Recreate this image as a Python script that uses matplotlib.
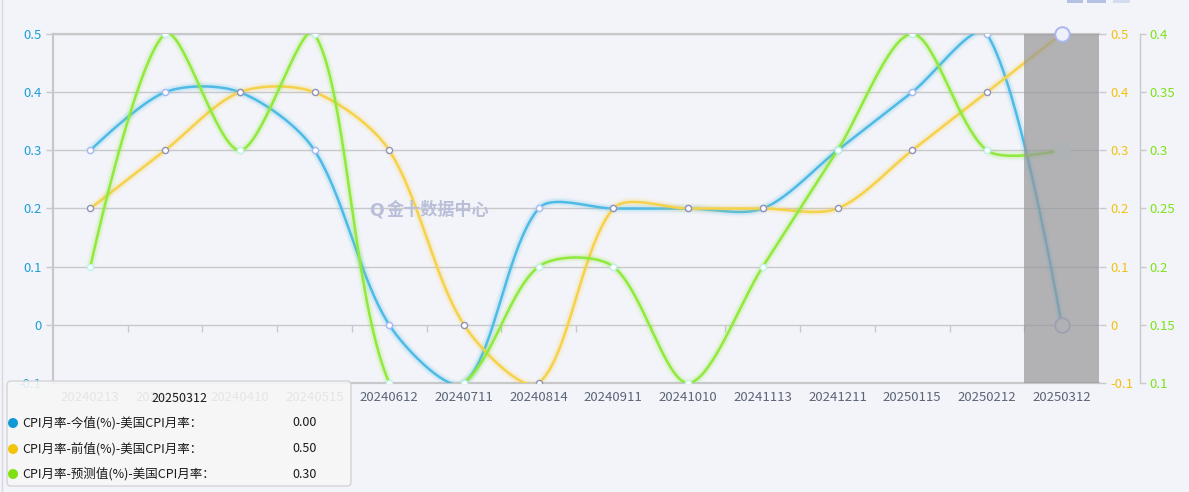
import numpy as np
import matplotlib
matplotlib.use("Agg")
import matplotlib.pyplot as plt
from matplotlib.patches import FancyBboxPatch, Circle, Rectangle
from matplotlib.transforms import IdentityTransform

plt.rcParams['font.family'] = ['Noto Sans CJK SC', 'DejaVu Sans']

# ---- data -------------------------------------------------------------
dates = ['20240213', '20240312', '20240410', '20240515', '20240612', '20240711',
         '20240814', '20240911', '20241010', '20241113', '20241211', '20250115',
         '20250212', '20250312']
actual = [0.3, 0.4, 0.4, 0.3, 0.0, -0.1, 0.2, 0.2, 0.2, 0.2, 0.3, 0.4, 0.5, 0.0]
previous = [0.2, 0.3, 0.4, 0.4, 0.3, 0.0, -0.1, 0.2, 0.2, 0.2, 0.2, 0.3, 0.4, 0.5]
forecast = [0.2, 0.4, 0.3, 0.4, 0.1, 0.1, 0.2, 0.2, 0.1, 0.2, 0.3, 0.4, 0.3, 0.3]

rate_ticks = [-0.1, 0.0, 0.1, 0.2, 0.3, 0.4, 0.5]
rate_labels = ['-0.1', '0', '0.1', '0.2', '0.3', '0.4', '0.5']
fc_ticks = [0.1, 0.15, 0.2, 0.25, 0.3, 0.35, 0.4]
fc_labels = ['0.1', '0.15', '0.2', '0.25', '0.3', '0.35', '0.4']

series_names = ['CPI月率-今值(%)-美国CPI月率：',
                'CPI月率-前值(%)-美国CPI月率：',
                'CPI月率-预测值(%)-美国CPI月率：']
watermark = '金十数据中心'

# ---- style ------------------------------------------------------------
W, H = 1189, 492
BG = '#f3f4f9'
GRID = '#c9c9cc'
BLUE_LINE, YEL_LINE, GRN_LINE = '#4dbbe6', '#f6d24a', '#8fea3c'
BLUE_DOT, YEL_DOT, GRN_DOT = '#1199d6', '#f2c40c', '#7fe012'
BLUE_TXT, YEL_TXT, GRN_TXT = '#1d9fd6', '#f0c20e', '#7ee21a'
PX = IdentityTransform()


def px_to_fig(x0, y0, x1, y1):
    return [x0 / W, 1 - y1 / H, (x1 - x0) / W, (y1 - y0) / H]


def smooth_curve(axis, xs, ys, smooth=0.3, n=40):
    """Cubic Bezier smoothing in display space; tangents follow neighbouring points."""
    pts = axis.transData.transform(np.column_stack([xs, ys]).astype(float))
    m = len(pts)
    t = np.linspace(0, 1, n)[1:, None]
    out = [pts[0][None, :]]
    cp0 = pts[0].copy()
    for i in range(1, m):
        p, prev = pts[i], pts[i - 1]
        if i < m - 1:
            nxt = pts[i + 1]
            v = nxt - prev
            d0 = np.hypot(*(p - prev))
            d1 = np.hypot(*(nxt - p))
            r = d1 / (d0 + d1)
            cp1 = p - v * smooth * (1 - r)
            next_cp0 = p + v * smooth * r
        else:
            cp1 = p.copy()
            next_cp0 = p.copy()
        seg = ((1 - t) ** 3 * prev + 3 * (1 - t) ** 2 * t * cp0
               + 3 * (1 - t) * t ** 2 * cp1 + t ** 3 * p)
        out.append(seg)
        cp0 = next_cp0
    path = np.vstack(out)
    return axis.transData.inverted().transform(path)


fig = plt.figure(figsize=(W / 100, H / 100), dpi=100, facecolor=BG)
ax = fig.add_axes(px_to_fig(53, 34, 1099, 383))
ax.set_facecolor(BG)
ax2 = ax.twinx()
ax3 = ax.twinx()

x = np.arange(len(dates))
for a in (ax, ax2, ax3):
    a.set_xlim(-0.5, len(dates) - 0.5)
ax.set_ylim(rate_ticks[0], rate_ticks[-1])
ax2.set_ylim(rate_ticks[0], rate_ticks[-1])
ax3.set_ylim(fc_ticks[0], fc_ticks[-1])

# left axis
ax.set_yticks(rate_ticks, rate_labels)
ax.tick_params(axis='y', length=5, width=1, color=GRID, pad=3,
               labelsize=9.5, labelcolor=BLUE_TXT)
ax.yaxis.grid(True, color=GRID, lw=1)
ax.set_axisbelow(True)
ax.set_xticks(x, dates)
ax.tick_params(axis='x', length=0, pad=5.5, labelsize=9.5, labelcolor='#5b6475')
for s in ('left', 'top', 'bottom'):
    ax.spines[s].set_color('#c8c8cb')
    ax.spines[s].set_linewidth(1.6)
ax.spines['right'].set_visible(False)

# category separators along the zero line
bounds = x[:-1] + 0.5
ax.plot(bounds, np.zeros_like(bounds, dtype=float), ls='none', marker=3,
        ms=5, mew=1, color=GRID, zorder=1)

# middle axis (previous)
ax2.set_yticks(rate_ticks, rate_labels)
ax2.tick_params(axis='y', length=5, width=1, color=GRID, pad=3,
                labelsize=9.5, labelcolor=YEL_TXT)
for s in ax2.spines.values():
    s.set_visible(False)

# outer axis (forecast)
ax3.set_yticks(fc_ticks, fc_labels)
ax3.tick_params(axis='y', length=4, width=1, color=GRID, pad=3,
                labelsize=9.5, labelcolor=GRN_TXT)
for s in ax3.spines.values():
    s.set_visible(False)
ax3.spines['right'].set_visible(True)
ax3.spines['right'].set_position(('outward', 41 * 0.72))
ax3.spines['right'].set_color(GRID)
ax3.spines['right'].set_linewidth(1)

series = [
    (ax, actual, BLUE_LINE, '#a9b8f2'),
    (ax2, previous, YEL_LINE, '#8e92c0'),
    (ax3, forecast, GRN_LINE, '#bff2ee'),
]
for a, vals, col, edge in series:
    cx, cy = smooth_curve(a, x, vals).T
    a.plot(cx, cy, color=col, lw=7, alpha=0.07, solid_capstyle='round', zorder=2)
    a.plot(cx, cy, color=col, lw=4.5, alpha=0.15, solid_capstyle='round', zorder=2)
    a.plot(cx, cy, color=col, lw=1.8, zorder=3)
    a.plot(x[:-1], vals[:-1], ls='none', marker='o', ms=4.4, mfc='white',
           mec=edge, mew=1, zorder=4)

# emphasized last category
ax.plot([x[-1]], [actual[-1]], ls='none', marker='o', ms=10.5,
        mfc='#eceffa', mec='#aeb9ec', mew=1.4, zorder=5)
ax3.plot([x[-1]], [forecast[-1]], ls='none', marker='o', ms=10.5,
         mfc='#eceffa', mec='#d8f6f0', mew=1.4, zorder=5)
ax3.axvspan(x[-1] - 0.5, x[-1] + 0.5, color='#979799', alpha=0.7, lw=0, zorder=8)
ax3.plot([x[-1]], [previous[-1]], ls='none', marker='o', ms=10.5,
         mfc='#eef0fb', mec='#aab6ee', mew=1.4, zorder=9, clip_on=False,
         transform=ax2.transData)

# watermark
fig.text(369, H - 210, 'Q', transform=PX, fontsize=12.5, fontweight='bold',
         color='#b9bed9', va='center', ha='left', family=['DejaVu Sans'])
fig.text(387, H - 210, watermark, transform=PX, fontsize=12.3,
         fontweight='bold', color='#b9bed9', va='center', ha='left')

# toolbar glyphs at top right
for x0, x1, c in [(1067, 1083, '#b3c1e3'), (1087, 1106, '#b3c1e3'),
                  (1113, 1130, '#d3dcef')]:
    fig.patches.append(Rectangle((x0, H - 3), x1 - x0, 3, transform=PX,
                                 facecolor=c, edgecolor='none', zorder=10))
fig.add_artist(plt.Line2D([1.5, 1.5], [0, H], transform=PX, color='#d8d9de', lw=1))

# tooltip
box = FancyBboxPatch((7, H - 486), 344, 105, boxstyle='round,pad=0,rounding_size=4',
                     transform=PX, facecolor='#f7f7f7', alpha=0.88,
                     edgecolor='#cfcfd2', lw=1, zorder=20)
fig.patches.append(box)
fig.text(179, H - 398, dates[-1], transform=PX, fontsize=9, color='#1a1a1a',
         ha='center', va='center', zorder=21)
last_vals = [actual[-1], previous[-1], forecast[-1]]
row_y = [423, 449, 474]
for name, val, ry, dc in zip(series_names, last_vals, row_y,
                             [BLUE_DOT, YEL_DOT, GRN_DOT]):
    fig.patches.append(Circle((13, H - ry), 5, transform=PX, facecolor=dc,
                              edgecolor='none', zorder=21))
    fig.text(22, H - ry, name, transform=PX, fontsize=9, color='#1a1a1a',
             ha='left', va='center', zorder=21)
    fig.text(292, H - ry, f'{val:.2f}', transform=PX, fontsize=9,
             color='#1a1a1a', ha='left', va='center', zorder=21)

fig.savefig('out.png', dpi=100, facecolor=BG)
